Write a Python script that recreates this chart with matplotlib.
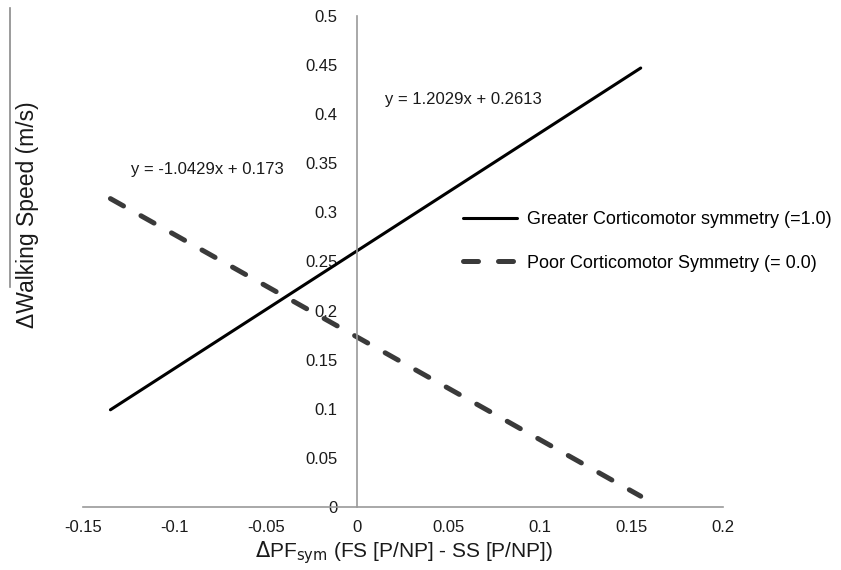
import matplotlib.pyplot as plt
from matplotlib.lines import Line2D

plt.rcParams["font.family"] = ["Liberation Sans", "DejaVu Sans"]

# endpoints of the two fitted lines
x_ends = [-0.135, 0.155]
greater_y = [0.099, 0.447]
poor_y = [0.314, 0.011]

greater_label = "Greater Corticomotor symmetry (=1.0)"
poor_label = "Poor Corticomotor Symmetry (= 0.0)"
greater_eq = "y = 1.2029x + 0.2613"
poor_eq = "y = -1.0429x + 0.173"

x_ticks = [-0.15, -0.1, -0.05, 0, 0.05, 0.1, 0.15, 0.2]
x_tick_labels = ["-0.15", "-0.1", "-0.05", "0", "0.05", "0.1", "0.15", "0.2"]
y_ticks = [0, 0.05, 0.1, 0.15, 0.2, 0.25, 0.3, 0.35, 0.4, 0.45, 0.5]
y_tick_labels = ["0", "0.05", "0.1", "0.15", "0.2", "0.25", "0.3", "0.35", "0.4", "0.45", "0.5"]

AXIS_GREY = "#9a9a9a"
TEXT = "#1a1a1a"

fig = plt.figure(figsize=(8.41, 5.70), dpi=100)
ax = fig.add_axes([0.0987, 0.1105, 0.761, 0.8615])

ax.plot(x_ends, greater_y, color="black", lw=2.2, solid_capstyle="round",
        label=greater_label)
ax.plot(x_ends, poor_y, color="#3a3a3a", lw=3.6, dashes=(3, 4),
        dash_capstyle="round", label=poor_label)

ax.set_xlim(-0.15, 0.2)
ax.set_ylim(0, 0.5)

ax.spines["top"].set_visible(False)
ax.spines["right"].set_visible(False)
ax.spines["left"].set_position(("data", 0))
for s in ("left", "bottom"):
    ax.spines[s].set_color(AXIS_GREY)
    ax.spines[s].set_linewidth(1.2)

ax.set_xticks(x_ticks)
ax.set_xticklabels(x_tick_labels)
ax.set_yticks(y_ticks)
ax.set_yticklabels(y_tick_labels)
ax.tick_params(axis="both", length=0, labelsize=12, colors=TEXT)
ax.tick_params(axis="x", pad=9)
ax.tick_params(axis="y", pad=14)

ax.text(0.0153, 0.4145, greater_eq, fontsize=12, color=TEXT, va="center", ha="left")
ax.text(-0.124, 0.344, poor_eq, fontsize=12, color=TEXT, va="center", ha="left")

ax.legend(loc="center left", bbox_to_anchor=(463 / 841, 1 - 241.5 / 570),
          bbox_transform=fig.transFigure, frameon=False, fontsize=13,
          handlelength=3.0, handletextpad=0.55, labelspacing=1.45,
          borderpad=0, borderaxespad=0)

fig.text(404 / 841, 1 - 553 / 570, r"$\Delta$PF$_{\mathrm{sym}}$ (FS [P/NP] - SS [P/NP])",
         fontsize=15, color=TEXT, ha="center", va="center")
fig.text(28 / 841, 1 - 215 / 570, "ΔWalking Speed (m/s)", fontsize=16.5, color=TEXT,
         rotation=90, ha="center", va="center")

# stray grey rule at the left edge of the original image
fig.add_artist(Line2D([10 / 841, 10 / 841], [1 - 8 / 570, 1 - 287 / 570],
                      transform=fig.transFigure, color="#8a8a8a", lw=1.2))

fig.savefig("out.png", dpi=100)
